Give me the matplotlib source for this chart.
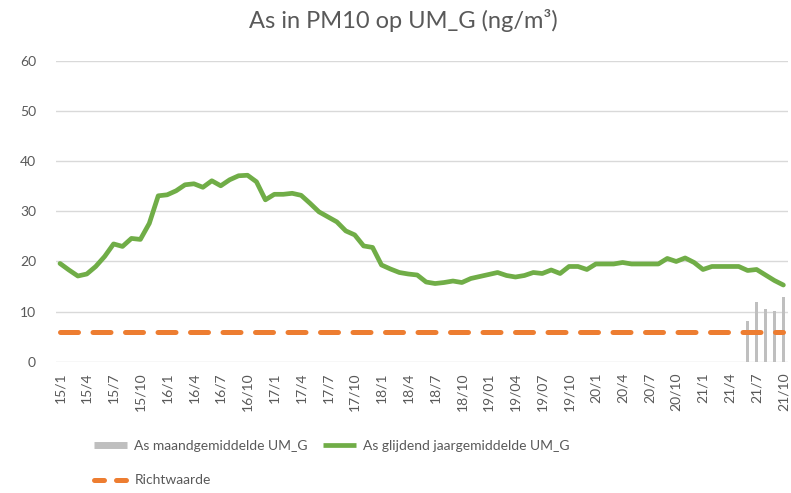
import matplotlib
matplotlib.use("Agg")
import matplotlib.pyplot as plt
from matplotlib.lines import Line2D

# months 2015-01 .. 2021-10
months = []
for y in range(15, 22):
    for m in range(1, 13):
        if y == 21 and m > 10:
            break
        months.append((y, m))

# tick labels every 3 months (as in the original)
tick_labels = ["15/1", "15/4", "15/7", "15/10", "16/1", "16/4", "16/7", "16/10",
               "17/1", "17/4", "17/7", "17/10", "18/1", "18/4", "18/7", "18/10",
               "19/01", "19/04", "19/07", "19/10", "20/1", "20/4", "20/7", "20/10",
               "21/1", "21/4", "21/7", "21/10"]

# glijdend jaargemiddelde (ng/m3)
rolling = [19.6, 18.3, 17.1, 17.5, 19.0, 21.0, 23.5, 23.0, 24.6, 24.4,
           27.6, 33.1, 33.3, 34.1, 35.3, 35.5, 34.8, 36.1, 35.1, 36.3,
           37.1, 37.2, 35.9, 32.3, 33.4, 33.4, 33.6, 33.2, 31.6, 29.9,
           28.9, 27.9, 26.1, 25.3, 23.1, 22.8, 19.3, 18.5, 17.8, 17.5,
           17.3, 15.9, 15.6, 15.8, 16.1, 15.8, 16.6, 17.0, 17.4, 17.8,
           17.2, 16.9, 17.2, 17.8, 17.6, 18.3, 17.6, 19.0, 19.0, 18.4,
           19.5, 19.5, 19.5, 19.8, 19.5, 19.5, 19.5, 19.5, 20.6, 20.0,
           20.7, 19.8, 18.4, 19.0, 19.0, 19.0, 19.0, 18.2, 18.4, 17.3,
           16.2, 15.3]

# maandgemiddelde, only available for the last months (21/6 .. 21/10)
month_idx = [77, 78, 79, 80, 81]
month_vals = [8.2, 12.0, 10.5, 10.2, 13.0]

richtwaarde = 6

x = list(range(len(months)))

plt.rcParams['font.family'] = ['Lato', 'DejaVu Sans']
grey_txt = "#595959"

fig = plt.figure(figsize=(7.91, 4.93), dpi=100)
ax = fig.add_axes([0.0702, 0.2663, 0.9258, 0.610])

ax.bar(month_idx, month_vals, width=0.35, color="#bfbfbf", zorder=2)
ax.plot(x, [richtwaarde] * len(x), color="#ed7d31", lw=3.6,
        dashes=(3.6, 2.9), dash_capstyle="round", zorder=3)
ax.plot(x, rolling, color="#70ad47", lw=3.4, solid_capstyle="round",
        solid_joinstyle="round", zorder=4)

ax.set_xlim(-0.5, len(x) - 0.5)
ax.set_ylim(0, 60)
ax.set_yticks(range(0, 61, 10))
ax.set_xticks(x[::3])
ax.set_xticklabels(tick_labels, rotation=90)
ax.yaxis.grid(True, color="#d9d9d9", lw=1)
ax.set_axisbelow(True)
for s in ax.spines.values():
    s.set_visible(False)
ax.tick_params(axis="both", length=0, colors=grey_txt, labelsize=10)
ax.tick_params(axis="x", pad=8)
ax.tick_params(axis="y", pad=14)

fig.text(0.51, 0.958, "As in PM10 op UM_G (ng/m³)", ha="center", va="center",
         fontsize=17, color=grey_txt)

handles = [Line2D([], [], color="#bfbfbf", lw=5, solid_capstyle="butt"),
           Line2D([], [], color="#ed7d31", lw=3.6, dashes=(2.0, 2.4),
                  dash_capstyle="round"),
           Line2D([], [], color="#70ad47", lw=3.4, solid_capstyle="butt")]
labels = ["As maandgemiddelde UM_G", "Richtwaarde", "As glijdend jaargemiddelde UM_G"]
fig.legend(handles, labels, ncol=2, loc="lower left", bbox_to_anchor=(0.103, -0.012),
           frameon=False, fontsize=10, labelcolor=grey_txt, handlelength=2.4,
           handletextpad=0.5, columnspacing=1.1, labelspacing=1.6)

fig.savefig("out.png", dpi=100)
